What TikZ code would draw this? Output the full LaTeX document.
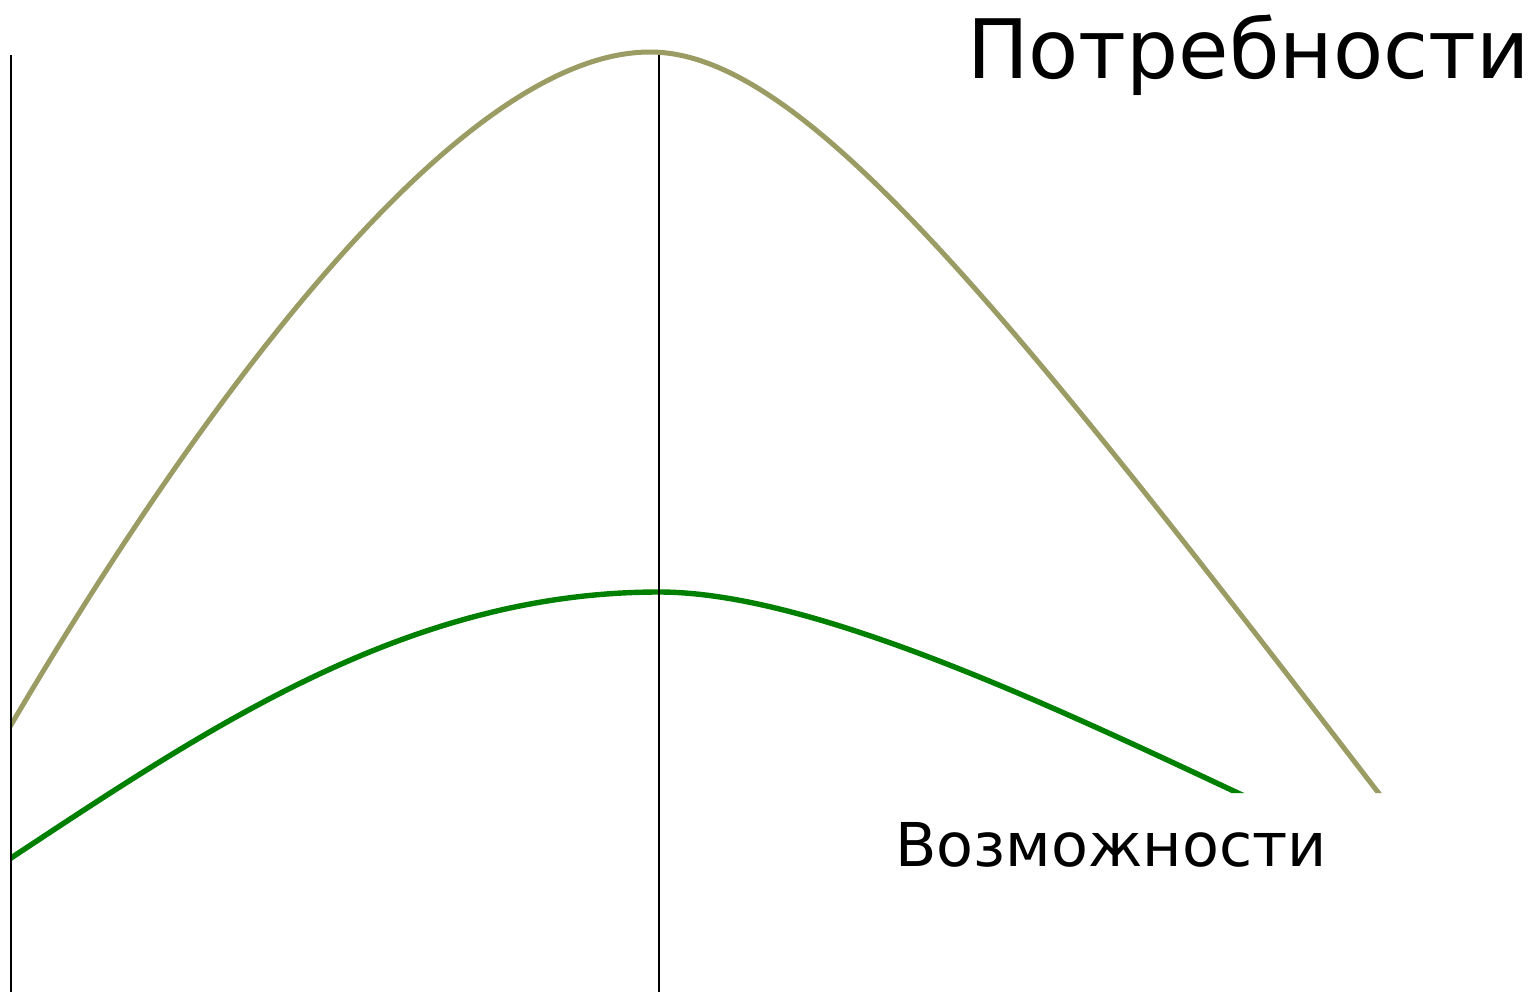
\documentclass[tikz,border=0pt]{standalone}
\usepackage{fontspec}
\setmainfont{DejaVu Sans}
\definecolor{needcol}{RGB}{154,156,100}
\definecolor{possCol}{RGB}{0,128,0}
\tikzset{
  axisline/.style={draw=black, line width=0.95pt},
  needcurve/.style={draw=needcol, line width=2.5pt},
  posscurve/.style={draw=possCol, line width=2.7pt},
  lbl/.style={inner sep=0pt, text=black}
}
\begin{document}
\begin{tikzpicture}[x={(0.5pt,0)}, y={(0,-0.5pt)}]
\useasboundingbox (0,0) rectangle (1533,992);
\fill[white] (0,0) rectangle (1533,992);
\begin{scope}
\clip (11,0) -- (1533,0) -- (1533,793) -- (700,793) -- (700,992) -- (11,992) -- cycle;
\draw[needcurve] (0,743) -- (11,725) .. controls (181,436) and (450,52) .. (650,52)
  .. controls (800,52) and (1000,300) .. (1377,791) -- (1392,810);
\draw[posscurve] (0,865) -- (11,858) .. controls (211,726) and (409,592) .. (659,592)
  .. controls (809,592) and (1040,700) .. (1240,794) -- (1262,804);
\end{scope}
\draw[axisline] (11,55) -- (11,992);
\draw[axisline] (659,55) -- (659,992);
\node[lbl, anchor=base east, font=\fontsize{41}{49}\selectfont] (needs) at (1530,78) {Потребности};
\node[lbl, anchor=base west, font=\fontsize{30.2}{36}\selectfont] (poss) at (895,866) {Возможности};
\end{tikzpicture}
\end{document}
